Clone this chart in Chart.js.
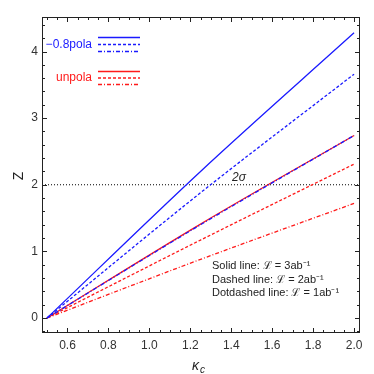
<!DOCTYPE html>
<html>
<head>
<meta charset="utf-8">
<script src="https://cdn.jsdelivr.net/npm/chart.js@4"></script>
<style>
  html, body { margin: 0; padding: 0; background: #fff; }
  #wrap { width: 374px; height: 374px; }
</style>
</head>
<body>
<div id="wrap"><canvas id="c" width="374" height="374"></canvas></div>
<script>
const kappa = [0.5, 1.25, 2.0]

// Z values, -0.8 polarisation
const polSolid = [0, 2.20, 4.28]
const polDashed = [0, 1.88, 3.66]
const polDotdash = [0, 1.40, 2.74]

// Z values, unpolarised
const unpSolid = [0, 1.41, 2.74]
const unpDashed = [0, 1.17, 2.31]
const unpDotdash = [0, 0.88, 1.72]

const sigmaLevel = 2
const xRange = [0.4756, 2.029]
const yRange = [-0.225, 4.518]

const BLUE = '#1a1aff'
const RED = '#ff1a1a'
const DASH = [3, 2]
const DOTDASH = [4, 2, 1, 2]

const pts = (ys) => kappa.map((k, i) => ({ x: k, y: ys[i] }))

function line(label, ys, color, dash) {
    return {
        label: label,
        data: pts(ys),
        borderColor: color,
        borderWidth: 1.3,
        borderDash: dash,
        pointRadius: 0,
        showLine: true,
        fill: false,
        cubicInterpolationMode: 'monotone'
    }
}

// frame, inward ticks, legend and labels
const decor = {
    id: 'decor',
    afterDraw(chart) {
        const ctx = chart.ctx
        const a = chart.chartArea
        const xs = chart.scales.x
        const ys = chart.scales.y
        ctx.save()
        ctx.strokeStyle = '#222'
        ctx.lineWidth = 1
        ctx.setLineDash([])
        ctx.strokeRect(a.left + 0.5, a.top + 0.5, a.right - a.left - 1, a.bottom - a.top - 1)

        ctx.beginPath()
        for (let k = Math.ceil(xRange[0] * 20); k <= Math.floor(xRange[1] * 20); k++) {
            const px = Math.round(xs.getPixelForValue(k / 20)) + 0.5
            const len = k % 4 === 0 ? 5 : 3
            ctx.moveTo(px, a.bottom); ctx.lineTo(px, a.bottom - len)
            ctx.moveTo(px, a.top); ctx.lineTo(px, a.top + len)
        }
        for (let k = Math.ceil(yRange[0] * 5); k <= Math.floor(yRange[1] * 5); k++) {
            const py = Math.round(ys.getPixelForValue(k / 5)) + 0.5
            const len = k % 5 === 0 ? 5 : 3
            ctx.moveTo(a.left, py); ctx.lineTo(a.left + len, py)
            ctx.moveTo(a.right, py); ctx.lineTo(a.right - len, py)
        }
        ctx.stroke()

        // legend
        ctx.textBaseline = 'middle'
        ctx.textAlign = 'right'
        ctx.font = '12px "Liberation Sans", Arial, sans-serif'
        ctx.fillStyle = BLUE
        ctx.fillText('\u22120.8pola', 92, 45)
        ctx.fillStyle = RED
        ctx.fillText('unpola', 92, 78)
        const seg = (y, color, dash) => {
            ctx.strokeStyle = color
            ctx.lineWidth = 1.3
            ctx.setLineDash(dash)
            ctx.beginPath(); ctx.moveTo(98, y); ctx.lineTo(140, y); ctx.stroke()
        }
        seg(37.5, BLUE, []); seg(44.5, BLUE, DASH); seg(51.5, BLUE, DOTDASH)
        seg(71.5, RED, []); seg(78, RED, DASH); seg(84.5, RED, DOTDASH)
        ctx.setLineDash([])

        // luminosity note
        ctx.fillStyle = '#222'
        ctx.textAlign = 'left'
        ctx.font = '11px "Liberation Sans", Arial, sans-serif'
        ctx.fillText('Solid line: \u2112 = 3ab\u207B\u00B9', 212, 266)
        ctx.fillText('Dashed line: \u2112 = 2ab\u207B\u00B9', 212, 280)
        ctx.fillText('Dotdashed line: \u2112 = 1ab\u207B\u00B9', 212, 293)

        // 2 sigma label
        ctx.font = 'italic 12px "Liberation Sans", Arial, sans-serif'
        ctx.textAlign = 'center'
        ctx.fillText('2\u03C3', 239, 178)

        // axis titles
        ctx.textAlign = 'left'
        ctx.font = 'italic 14px "Liberation Sans", Arial, sans-serif'
        ctx.fillText('\u03BA', 192, 366)
        ctx.font = 'italic 10px "Liberation Sans", Arial, sans-serif'
        ctx.fillText('c', 200, 370)

        ctx.translate(19, 176)
        ctx.rotate(-Math.PI / 2)
        ctx.textAlign = 'center'
        ctx.font = '14px "Liberation Sans", Arial, sans-serif'
        ctx.fillText('Z', 0, 0)
        ctx.restore()
    }
}

new Chart(document.getElementById('c'), {
    type: 'scatter',
    data: {
        datasets: [
            line('-0.8pola solid', polSolid, BLUE, []),
            line('-0.8pola dashed', polDashed, BLUE, DASH),
            line('-0.8pola dotdashed', polDotdash, BLUE, DOTDASH),
            line('unpola solid', unpSolid, RED, []),
            line('unpola dashed', unpDashed, RED, DASH),
            line('unpola dotdashed', unpDotdash, RED, DOTDASH),
            {
                label: '2sigma',
                data: [{ x: xRange[0], y: sigmaLevel }, { x: xRange[1], y: sigmaLevel }],
                borderColor: '#000',
                borderWidth: 1.2,
                borderDash: [1, 2],
                pointRadius: 0,
                showLine: true
            }
        ]
    },
    options: {
        responsive: false,
        animation: false,
        layout: { padding: { top: 17, right: 14, left: 0, bottom: 0 } },
        plugins: { legend: { display: false }, tooltip: { enabled: false } },
        scales: {
            x: {
                type: 'linear',
                min: xRange[0],
                max: xRange[1],
                grid: { display: false, drawTicks: false },
                border: { display: false },
                afterFit: (s) => { s.height = 41 },
                ticks: {
                    stepSize: 0.2,
                    includeBounds: false,
                    padding: 5,
                    color: '#333',
                    font: { family: '"Liberation Sans", Arial, sans-serif', size: 12 },
                    callback: (v) => v.toFixed(1)
                }
            },
            y: {
                type: 'linear',
                min: yRange[0],
                max: yRange[1],
                grid: { display: false, drawTicks: false },
                border: { display: false },
                afterFit: (s) => { s.width = 42 },
                ticks: {
                    stepSize: 1,
                    includeBounds: false,
                    padding: 4,
                    color: '#333',
                    font: { family: '"Liberation Sans", Arial, sans-serif', size: 12 },
                    callback: (v) => String(v)
                }
            }
        }
    },
    plugins: [decor]
})
</script>
</body>
</html>
